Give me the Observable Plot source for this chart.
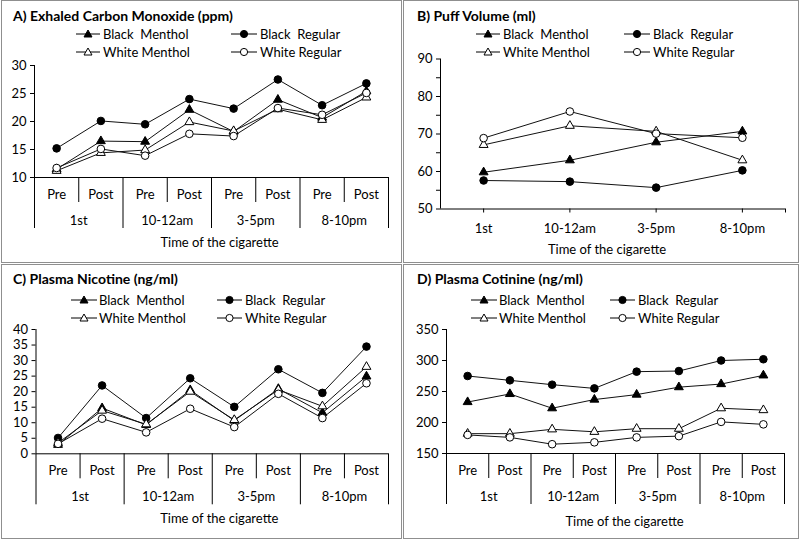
<!DOCTYPE html>
<html><head><meta charset="utf-8">
<script src="https://cdn.jsdelivr.net/npm/d3@7"></script>
<script src="https://cdn.jsdelivr.net/npm/@observablehq/plot@0.6"></script>
<style>
body{margin:0;background:#fff;font-family:Lato, "Open Sans", sans-serif;color:#000}
#fig{position:relative;width:800px;height:540px;overflow:hidden;background:#fff}
.frame{position:absolute;border:1px solid #8f8f8f;box-sizing:border-box}
.panel{position:absolute}
.title{position:absolute;font-weight:bold;font-size:14px;white-space:pre;line-height:16px}
.leg{position:absolute;font-size:13px;white-space:pre;display:flex;align-items:center;height:16px;line-height:16px}
.leg svg{display:block}
</style></head><body><div id="fig"></div><script>
// ---- categories ----
const timeGroups = ["1st", "10-12am", "3-5pm", "8-10pm"];
const phases = ["Pre", "Post"];
const seriesNames = ["Black  Menthol", "Black  Regular", "White Menthol", "White Regular"];
const axisTitle = "Time of the cigarette";

// ---- A) Exhaled Carbon Monoxide (ppm): Pre/Post per time ----
const coBlackMenthol = [11.5, 16.5, 16.4, 22.1, 18.2, 23.9, 20.7, 25.4];
const coBlackRegular = [15.2, 20.1, 19.5, 24.0, 22.3, 27.5, 22.9, 26.8];
const coWhiteMenthol = [11.2, 14.4, 14.9, 19.9, 18.3, 22.2, 20.3, 24.3];
const coWhiteRegular = [11.7, 15.1, 13.9, 17.8, 17.4, 22.4, 21.2, 25.1];
const coTicks = [10, 15, 20, 25, 30];

// ---- B) Puff Volume (ml): per time ----
const puffBlackMenthol = [59.8, 63.0, 67.8, 70.7];
const puffBlackRegular = [57.6, 57.3, 55.7, 60.3];
const puffWhiteMenthol = [67.1, 72.2, 70.7, 63.0];
const puffWhiteRegular = [68.9, 76.0, 70.1, 69.0];
const puffTicks = [50, 55, 60, 65, 70, 75, 80, 85, 90];
const puffLabelTicks = [50, 60, 70, 80, 90];

// ---- C) Plasma Nicotine (ng/ml) ----
const nicBlackMenthol = [2.9, 14.7, 9.3, 20.5, 10.7, 20.9, 13.2, 24.9];
const nicBlackRegular = [5.1, 22.0, 11.5, 24.3, 15.1, 27.2, 19.6, 34.5];
const nicWhiteMenthol = [3.5, 13.9, 9.5, 20.0, 10.9, 20.6, 15.3, 28.0];
const nicWhiteRegular = [3.2, 11.3, 6.9, 14.5, 8.6, 19.3, 11.5, 22.7];
const nicTicks = [0, 5, 10, 15, 20, 25, 30, 35, 40];

// ---- D) Plasma Cotinine (ng/ml) ----
const cotBlackMenthol = [233, 246, 223, 237, 245, 257, 262, 276];
const cotBlackRegular = [275, 268, 261, 255, 282, 283, 300, 302];
const cotWhiteMenthol = [182, 182, 189, 185, 190, 190, 223, 220];
const cotWhiteRegular = [180, 176, 165, 168, 176, 178, 201, 197];
const cotTicks = [150, 200, 250, 300, 350];

// ---- styles ----
const FONT = "Lato, 'Open Sans', sans-serif";
const seriesSymbol = ["triangle", "circle", "triangle", "circle"];
const seriesFill = ["#000", "#000", "#fff", "#fff"];

const fig = document.getElementById("fig");

function rowsOf(arrays) {
  return arrays.flatMap((arr, k) => arr.map((v, i) => ({s: seriesNames[k], k, i, v})));
}

function seriesMarks(rows) {
  const marks = [Plot.line(rows, {x: "i", y: "v", z: "s", stroke: "#111", strokeWidth: 1})];
  seriesNames.forEach((name, k) => {
    marks.push(Plot.dot(rows.filter(d => d.k === k), {
      x: "i", y: "v", symbol: seriesSymbol[k],
      r: seriesSymbol[k] === "circle" ? 3.8 : 3.3,
      fill: seriesFill[k], stroke: "#000", strokeWidth: 1
    }));
  });
  return marks;
}

function yAxisMarks(ticks, labelTicks) {
  return [
    Plot.axisY(ticks, {tickSize: 4, tickPadding: 4, label: null, fontSize: 13,
      tickFormat: d => (labelTicks ? (labelTicks.includes(d) ? d : "") : d)})
  ];
}

// Panel with 8 categories (Pre/Post within each time of day)
function plot8(cfg) {
  const n = timeGroups.length * phases.length;
  const idx = d3.range(n);
  const longDiv = d3.range(timeGroups.length + 1).map(g => g * phases.length - 0.5);
  const shortDiv = d3.range(timeGroups.length).map(g => g * phases.length + 0.5);
  const groupCenters = d3.range(timeGroups.length).map(g => g * phases.length + (phases.length - 1) / 2);
  const rows = rowsOf(cfg.data);
  return Plot.plot({
    width: cfg.width, height: cfg.height,
    marginLeft: cfg.m[0], marginRight: cfg.m[1], marginTop: cfg.m[2], marginBottom: cfg.m[3],
    style: {fontFamily: FONT, fontSize: "13px", color: "#000", background: "transparent", overflow: "visible"},
    x: {domain: [-0.5, n - 0.5]},
    y: {domain: d3.extent(cfg.ticks)},
    marks: [
      Plot.ruleX([-0.5], {stroke: "#000"}),
      Plot.ruleY([d3.min(cfg.ticks)], {stroke: "#000"}),
      ...yAxisMarks(cfg.ticks),
      Plot.axisX(longDiv, {tickSize: 51, tickFormat: () => "", label: null, stroke: "#000"}),
      Plot.axisX(shortDiv, {tickSize: 25, tickFormat: () => "", label: null, stroke: "#000"}),
      Plot.axisX(idx, {tickSize: 0, tickPadding: 12, fontSize: 13, label: null, tickFormat: i => phases[i % phases.length]}),
      Plot.axisX(groupCenters, {tickSize: 0, tickPadding: 38, fontSize: 13, label: null,
        tickFormat: c => timeGroups[Math.round((c - (phases.length - 1) / 2) / phases.length)]}),
      Plot.text([axisTitle], {frameAnchor: "bottom", dy: cfg.titleDy, dx: cfg.titleDx, text: d => d, fontSize: 13}),
      ...seriesMarks(rows)
    ]
  });
}

// Panel with 4 categories (time of day)
function plot4(cfg) {
  const n = timeGroups.length;
  const rows = rowsOf(cfg.data);
  return Plot.plot({
    width: cfg.width, height: cfg.height,
    marginLeft: cfg.m[0], marginRight: cfg.m[1], marginTop: cfg.m[2], marginBottom: cfg.m[3],
    style: {fontFamily: FONT, fontSize: "13px", color: "#000", background: "transparent", overflow: "visible"},
    x: {domain: [-0.5, n - 0.5]},
    y: {domain: d3.extent(cfg.ticks)},
    marks: [
      Plot.ruleX([-0.5], {stroke: "#000"}),
      Plot.ruleY([d3.min(cfg.ticks)], {stroke: "#000"}),
      ...yAxisMarks(cfg.ticks, cfg.labelTicks),
      Plot.axisX([...d3.range(n), n - 0.5], {tickSize: 4, tickPadding: 11, fontSize: 13, label: null,
        stroke: "#000", tickFormat: i => (Number.isInteger(i) ? timeGroups[i] : "")}),
      Plot.text([axisTitle], {frameAnchor: "bottom", dy: cfg.titleDy, dx: cfg.titleDx, text: d => d, fontSize: 13}),
      ...seriesMarks(rows)
    ]
  });
}

function legendSymbol(k, len) {
  const c = 6, mid = len / 2;
  const sym = seriesSymbol[k] === "circle"
    ? `<circle cx="${mid}" cy="${c}" r="3.6" fill="${seriesFill[k]}" stroke="#000"/>`
    : `<path d="M${mid},${c - 4}L${mid + 4},${c + 3}L${mid - 4},${c + 3}Z" fill="${seriesFill[k]}" stroke="#000"/>`;
  return `<svg width="${len}" height="12"><line x1="0" x2="${len}" y1="${c}" y2="${c}" stroke="#000"/>${sym}</svg>`;
}

const panels = [
  {left: 0, top: 0, width: 400, height: 262, kind: 8, title: "A) Exhaled Carbon Monoxide (ppm)",
   titleX: 13, titleY: 16, legRows: [34, 52], legCols: [[76, 24, 103], [231, 26, 260]],
   data: [coBlackMenthol, coBlackRegular, coWhiteMenthol, coWhiteRegular], ticks: coTicks,
   m: [34, 12, 65, 85], titleDy: 69, titleDx: 8},
  {left: 400, top: 0, width: 400, height: 262, kind: 4, title: "B) Puff Volume (ml)",
   titleX: 17, titleY: 16, legRows: [34, 52], legCols: [[76, 24, 103], [224, 26, 253]],
   data: [puffBlackMenthol, puffBlackRegular, puffWhiteMenthol, puffWhiteRegular], ticks: puffTicks,
   labelTicks: puffLabelTicks, m: [40, 15, 58.5, 53.5], titleDy: 44.5, titleDx: -6},
  {left: 0, top: 264, width: 400, height: 276, kind: 8, title: "C) Plasma Nicotine (ng/ml)",
   titleX: 13, titleY: 15, legRows: [36, 54], legCols: [[71, 26, 99], [217, 25, 245]],
   data: [nicBlackMenthol, nicBlackRegular, nicWhiteMenthol, nicWhiteRegular], ticks: nicTicks,
   m: [35.5, 12, 65, 86.7], titleDy: 68.7, titleDx: 7},
  {left: 400, top: 264, width: 400, height: 276, kind: 8, title: "D) Plasma Cotinine (ng/ml)",
   titleX: 17, titleY: 15, legRows: [36, 54], legCols: [[71, 26, 99], [210, 25, 238]],
   data: [cotBlackMenthol, cotBlackRegular, cotWhiteMenthol, cotWhiteRegular], ticks: cotTicks,
   m: [46, 16, 65, 87], titleDy: 72, titleDx: 9}
];

// frames (panel borders)
[[1, 0, 401, 263], [403, 0, 396, 263], [1, 264, 401, 275], [403, 264, 396, 275]].forEach(([l, t, w, h]) => {
  const f = document.createElement("div");
  f.className = "frame";
  Object.assign(f.style, {left: l + "px", top: t + "px", width: w + "px", height: h + "px"});
  fig.appendChild(f);
});

panels.forEach(p => {
  const wrap = document.createElement("div");
  wrap.className = "panel";
  Object.assign(wrap.style, {left: p.left + "px", top: p.top + "px", width: p.width + "px", height: p.height + "px"});
  const svg = p.kind === 8 ? plot8(p) : plot4(p);
  svg.style.position = "absolute";
  svg.style.left = "0px";
  svg.style.top = "0px";
  wrap.appendChild(svg);

  const t = document.createElement("div");
  t.className = "title";
  t.textContent = p.title;
  Object.assign(t.style, {left: p.titleX + "px", top: (p.titleY - 8) + "px"});
  wrap.appendChild(t);

  // legend: 2 columns x 2 rows, order: row1 = Black Menthol, Black Regular; row2 = White Menthol, White Regular
  seriesNames.forEach((name, k) => {
    const col = k % 2, row = Math.floor(k / 2);
    const [lx, len, tx] = p.legCols[col];
    const e = document.createElement("div");
    e.className = "leg";
    e.innerHTML = legendSymbol(k, len) + `<span style="margin-left:${tx - lx - len}px">${name}</span>`;
    Object.assign(e.style, {left: lx + "px", top: (p.legRows[row] - 8) + "px"});
    wrap.appendChild(e);
  });
  fig.appendChild(wrap);
});
</script></body></html>
